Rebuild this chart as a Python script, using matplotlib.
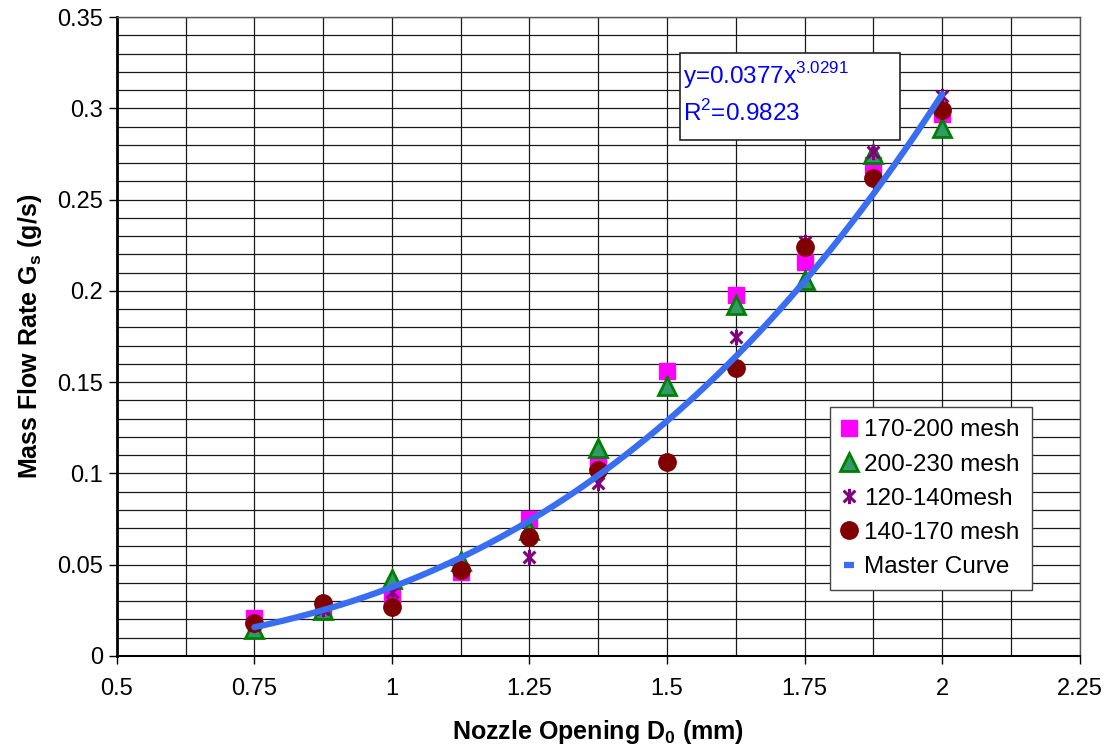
import numpy as np
import matplotlib
matplotlib.use("Agg")
import matplotlib.pyplot as plt
from matplotlib.path import Path
from matplotlib.patches import Rectangle
from matplotlib.lines import Line2D
from matplotlib.ticker import MultipleLocator

plt.rcParams["font.family"] = ["Liberation Sans", "DejaVu Sans"]
plt.rcParams["mathtext.fontset"] = "custom"
plt.rcParams["mathtext.rm"] = "Liberation Sans"
plt.rcParams["mathtext.bf"] = "Liberation Sans:bold"

# data
nozzle = [0.75, 0.875, 1.0, 1.125, 1.25, 1.375, 1.5, 1.625, 1.75, 1.875, 2.0]
mesh_170_200 = [0.021, 0.025, 0.033, 0.046, 0.075, 0.106, 0.156, 0.198, 0.216, 0.269, 0.297]
mesh_200_230 = [0.015, 0.025, 0.042, 0.052, 0.069, 0.114, 0.148, 0.192, 0.206, 0.275, 0.289]
mesh_120_140 = [0.017, 0.026, 0.035, 0.048, 0.054, 0.095, 0.106, 0.175, 0.227, 0.276, 0.307]
mesh_140_170 = [0.018, 0.029, 0.027, 0.047, 0.065, 0.102, 0.106, 0.158, 0.224, 0.262, 0.299]

# power-law trendline shown on the chart
fit_a = 0.0377
fit_b = 3.0291
fit_r2 = 0.9823

xticks = [0.5, 0.75, 1, 1.25, 1.5, 1.75, 2, 2.25]
xtick_labels = ["0.5", "0.75", "1", "1.25", "1.5", "1.75", "2", "2.25"]
yticks = [0, 0.05, 0.1, 0.15, 0.2, 0.25, 0.3, 0.35]
ytick_labels = ["0", "0.05", "0.1", "0.15", "0.2", "0.25", "0.3", "0.35"]

# excel style star marker: x plus vertical bar
star = Path([(-1, -1), (1, 1), (-1, 1), (1, -1), (0, -1.3), (0, 1.3)],
            [Path.MOVETO, Path.LINETO, Path.MOVETO, Path.LINETO, Path.MOVETO, Path.LINETO])

fig = plt.figure(figsize=(11.12, 7.51), dpi=100)
ax = fig.add_axes([0.105, 0.1265, 0.866, 0.8508])

ax.plot(nozzle, mesh_170_200, ls="none", marker="s", ms=11.5, color="#FF00FF",
        mec="#FF00FF", label="170-200 mesh")
ax.plot(nozzle, mesh_200_230, ls="none", marker="^", ms=13, mfc="#33996B",
        mec="#008000", mew=2, label="200-230 mesh")
ax.plot(nozzle, mesh_120_140, ls="none", marker=star, ms=11, color="#800080",
        mew=2.2, mfc="none", label="120-140mesh")
ax.plot(nozzle, mesh_140_170, ls="none", marker="o", ms=12.5, color="#800000",
        label="140-170 mesh")

curve_color = "#3A6EF2"
xs = np.linspace(min(nozzle), max(nozzle), 200)
ax.plot(xs, fit_a * xs ** fit_b, color=curve_color, lw=4.5, solid_capstyle="round")

ax.set_xlim(0.5, 2.25)
ax.set_ylim(0, 0.35)
ax.set_xticks(xticks)
ax.set_xticklabels(xtick_labels)
ax.set_yticks(yticks)
ax.set_yticklabels(ytick_labels)
ax.xaxis.set_minor_locator(MultipleLocator(0.125))
ax.yaxis.set_minor_locator(MultipleLocator(0.01))
ax.grid(which="both", color="#1a1a1a", lw=0.9)
ax.set_axisbelow(True)
ax.tick_params(which="major", direction="out", length=6, width=1, labelsize=17)
ax.tick_params(axis="x", pad=10)
ax.tick_params(axis="y", pad=4)
ax.tick_params(which="minor", length=0)

for side in ["top", "right"]:
    ax.spines[side].set_color("#555555")
    ax.spines[side].set_linewidth(1)
ax.spines["left"].set_linewidth(2)
ax.spines["bottom"].set_linewidth(1.5)

ax.set_xlabel(r"Nozzle Opening D$_\mathbf{0}$ (mm)", fontsize=18, fontweight="bold", labelpad=13)
ax.set_ylabel(r"Mass Flow Rate G$_\mathbf{s}$ (g/s)", fontsize=18, fontweight="bold", labelpad=9)

# equation box
ax.add_patch(Rectangle((0.585, 0.8075), 0.2285, 0.1365, transform=ax.transAxes,
                       facecolor="white", edgecolor="#222222", lw=1.2, zorder=5))
ax.text(0.588, 0.908, r"y=0.0377x$^\mathrm{%.4f}$" % fit_b, transform=ax.transAxes,
        color="#0000FF", fontsize=17.5, va="center", zorder=6)
ax.text(0.588, 0.85, r"R$^\mathrm{2}$=%.4f" % fit_r2, transform=ax.transAxes,
        color="#0000FF", fontsize=17.5, va="center", zorder=6)

# legend: short dash for the curve like excel
handles, labels = ax.get_legend_handles_labels()
handles.append(Line2D([], [], ls="none", marker="_", ms=7, mew=4.5, color=curve_color))
labels.append("Master Curve")
leg = ax.legend(handles, labels, loc="lower right", bbox_to_anchor=(0.95, 0.103),
                borderaxespad=0, fontsize=17.5, frameon=True, fancybox=False,
                edgecolor="#444444", framealpha=1, handlelength=0.55,
                handletextpad=0.35, borderpad=0.5, labelspacing=0.5)
leg.get_frame().set_linewidth(1)
leg.set_zorder(6)

fig.savefig("out.png", dpi=100)
